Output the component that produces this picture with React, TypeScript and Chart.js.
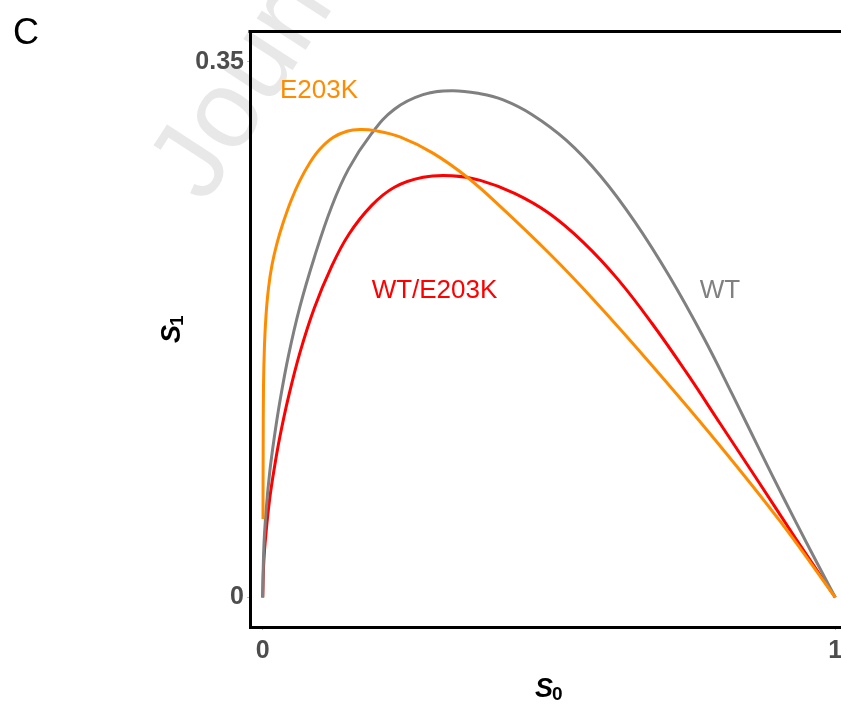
import React, { useEffect, useRef } from "react";
import { Chart, registerables } from "chart.js";

Chart.register(...registerables);

// ---- data ----
// WT (grey)
const wtS0 = [0, 0.002, 0.006, 0.012, 0.02, 0.03, 0.045, 0.065, 0.09, 0.12, 0.15, 0.19, 0.23, 0.28, 0.33, 0.38, 0.42, 0.47, 0.53, 0.59, 0.65, 0.71, 0.77, 0.82, 0.87, 0.91, 0.955, 1];
const wtS1 = [0, 0.033, 0.057, 0.081, 0.104, 0.128, 0.158, 0.19, 0.222, 0.255, 0.28, 0.303, 0.319, 0.3285, 0.3311, 0.3291, 0.3251, 0.3156, 0.2988, 0.2754, 0.2454, 0.21, 0.1698, 0.1328, 0.0948, 0.0648, 0.032, 0];

// E203K (orange)
const mutS0 = [0.0005, 0.0008, 0.0014, 0.0031, 0.0058, 0.0101, 0.0162, 0.025, 0.0355, 0.0494, 0.0651, 0.0826, 0.1001, 0.1228, 0.1472, 0.1699, 0.1961, 0.2397, 0.2973, 0.3567, 0.4143, 0.5016, 0.5767, 0.6762, 0.7932, 0.9032, 1];
const mutS1 = [0.0513, 0.0963, 0.1388, 0.1649, 0.1845, 0.2021, 0.2172, 0.2315, 0.2446, 0.2592, 0.2725, 0.2842, 0.293, 0.3005, 0.3046, 0.3057, 0.305, 0.3009, 0.2903, 0.2747, 0.2557, 0.2244, 0.195, 0.1532, 0.1016, 0.05, 0];

// WT/E203K (red)
const hetS0 = [0, 0.002, 0.006, 0.012, 0.02, 0.03, 0.045, 0.065, 0.09, 0.12, 0.15, 0.19, 0.23, 0.28, 0.33, 0.38, 0.44, 0.5, 0.56, 0.62, 0.68, 0.74, 0.8, 0.86, 0.93, 1];
const hetS1 = [0, 0.024, 0.043, 0.064, 0.084, 0.105, 0.131, 0.16, 0.189, 0.216, 0.237, 0.256, 0.268, 0.2745, 0.2755, 0.2725, 0.264, 0.251, 0.232, 0.208, 0.179, 0.147, 0.113, 0.079, 0.039, 0];

const seriesNames = ["WT", "E203K", "WT/E203K"];
const seriesColors = ["#808080", "#FF8C00", "#FF0000"];
// label anchor positions (data coordinates)
const labelS0 = [0.7986, 0.0983, 0.3];
const labelS1 = [0.2002, 0.3308, 0.2002];

const xTickValues = [0, 1];
const xTickLabels = ["0", "1"];
const yTickValues = [0, 0.35];
const yTickLabels = ["0", "0.35"];

const FONT = "'Liberation Sans', Arial, sans-serif";

function pts(xs: number[], ys: number[]) {
  return xs.map((x, i) => ({ x, y: ys[i] }));
}

const decorPlugin = {
  id: "decor",
  beforeDraw(chart: any) {
    const ctx = chart.ctx;
    // faint watermark
    ctx.save();
    ctx.translate(205, 205);
    ctx.rotate(-57 * Math.PI / 180);
    ctx.font = `110px ${FONT}`;
    ctx.fillStyle = "#e8e8e8";
    ctx.textBaseline = "alphabetic";
    ctx.fillText("Journal Pre-proof", 0, 0);
    ctx.restore();
  },
  afterDraw(chart: any) {
    const ctx = chart.ctx;
    const xs = chart.scales.x;
    const ys = chart.scales.y;
    const area = chart.chartArea;
    ctx.save();
    // top frame line
    ctx.strokeStyle = "#000";
    ctx.lineWidth = 3;
    ctx.beginPath();
    ctx.moveTo(area.left - 1.5, area.top + 0.5);
    ctx.lineTo(chart.width, area.top + 0.5);
    ctx.stroke();

    // series labels
    ctx.font = `26px ${FONT}`;
    ctx.textAlign = "center";
    ctx.textBaseline = "middle";
    seriesNames.forEach((n, i) => {
      ctx.fillStyle = seriesColors[i];
      ctx.fillText(n, xs.getPixelForValue(labelS0[i]), ys.getPixelForValue(labelS1[i]));
    });

    // axis titles
    ctx.fillStyle = "#000";
    ctx.textAlign = "left";
    ctx.textBaseline = "alphabetic";
    ctx.font = `italic bold 27px ${FONT}`;
    ctx.fillText("S", 535, 697);
    ctx.font = `bold 19px ${FONT}`;
    ctx.fillText("0", 552, 700);

    ctx.save();
    ctx.translate(180, 343);
    ctx.rotate(-Math.PI / 2);
    ctx.font = `italic bold 27px ${FONT}`;
    ctx.fillText("S", 0, 0);
    ctx.font = `bold 19px ${FONT}`;
    ctx.fillText("1", 17, 3);
    ctx.restore();

    // panel letter
    ctx.font = `36px ${FONT}`;
    ctx.fillStyle = "#000";
    ctx.fillText("C", 13, 44);
    ctx.restore();
  },
};

export default function App() {
  const ref = useRef<HTMLCanvasElement | null>(null);
  useEffect(() => {
    if (!ref.current) return;
    const mk = (xs: number[], ys: number[], i: number) => ({
      label: seriesNames[i],
      data: pts(xs, ys),
      showLine: true,
      borderColor: seriesColors[i],
      backgroundColor: seriesColors[i],
      borderWidth: 3,
      pointRadius: 0,
      tension: 0.4,
      fill: false,
    });
    const chart = new Chart(ref.current, {
      type: "scatter",
      data: {
        datasets: [mk(mutS0, mutS1, 1), mk(wtS0, wtS1, 0), mk(hetS0, hetS1, 2)],
      },
      options: {
        animation: false,
        responsive: false,
        layout: { padding: { top: 31, left: 0, right: 0, bottom: 0 } },
        plugins: { legend: { display: false }, tooltip: { enabled: false } },
        scales: {
          x: {
            type: "linear",
            min: -0.0222,
            max: 1.01,
            afterBuildTicks: (s: any) => {
              s.ticks = xTickValues.map((v) => ({ value: v }));
            },
            afterFit: (s: any) => {
              s.height = 77;
              s.paddingLeft = 0;
              s.paddingRight = 0;
            },
            ticks: {
              callback: (_v: any, i: number) => xTickLabels[i],
              font: { family: FONT, size: 25, weight: "bold" },
              color: "#4d4d4d",
              padding: 6,
              maxRotation: 0,
              autoSkip: false,
            },
            grid: { drawOnChartArea: false, drawTicks: true, tickLength: 3, color: "#bbbbbb" },
            border: { display: true, color: "#000", width: 3 },
          },
          y: {
            type: "linear",
            min: -0.0193,
            max: 0.3701,
            afterBuildTicks: (s: any) => {
              s.ticks = yTickValues.map((v) => ({ value: v }));
            },
            afterFit: (s: any) => {
              s.width = 250;
              s.paddingTop = 0;
              s.paddingBottom = 0;
            },
            ticks: {
              callback: (_v: any, i: number) => yTickLabels[i],
              font: { family: FONT, size: 25, weight: "bold" },
              color: "#4d4d4d",
              padding: 3,
              autoSkip: false,
            },
            grid: { drawOnChartArea: false, drawTicks: true, tickLength: 3, color: "#bbbbbb" },
            border: { display: true, color: "#000", width: 3 },
          },
        },
      },
      plugins: [decorPlugin],
    });
    return () => chart.destroy();
  }, []);
  return (
    <div style={{ position: "absolute", left: 0, top: 0, width: 841, height: 704, background: "#fff" }}>
      <canvas ref={ref} width={841} height={704} style={{ display: "block" }} />
    </div>
  );
}
